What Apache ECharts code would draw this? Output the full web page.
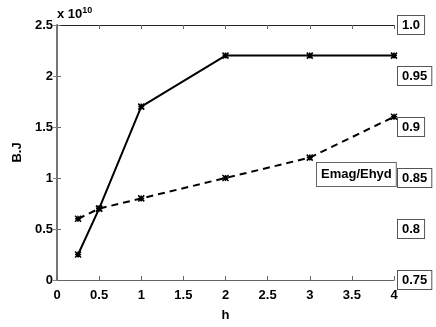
<!DOCTYPE html>
<html>
<head>
<meta charset="utf-8">
<script src="https://cdn.jsdelivr.net/npm/echarts@6/dist/echarts.min.js"></script>
<style>
  html, body { margin: 0; padding: 0; background: #fff; }
  #chart { width: 436px; height: 327px; }
</style>
</head>
<body>
<div id="chart"></div>
<script>
// data
const hValues = [0.25, 0.5, 1, 2, 3, 4]
const bjValues = [0.25, 0.7, 1.7, 2.2, 2.2, 2.2]          // x 10^10
const emagRatio = [0.81, 0.82, 0.83, 0.85, 0.87, 0.91]    // right axis
const xTicks = [0, 0.5, 1, 1.5, 2, 2.5, 3, 3.5, 4]
const leftTicks = [0, 0.5, 1, 1.5, 2, 2.5]
const rightTicks = ['0.75', '0.8', '0.85', '0.9', '0.95', '1.0']

const font = 'Liberation Sans, Arial, sans-serif'
const starPath = 'path://M0,0L10,10M10,0L0,10M5,0L5,10M0,5L10,5'

const chart = echarts.init(document.getElementById('chart'))

const option = {
  animation: false,
  textStyle: { fontFamily: font },
  grid: { left: 57, right: 42, top: 25, bottom: 38 },
  xAxis: [
    {
      type: 'value',
      min: xTicks[0],
      max: xTicks[xTicks.length - 1],
      interval: 0.5,
      name: 'h',
      nameLocation: 'middle',
      nameGap: 29,
      nameTextStyle: { color: '#000', fontWeight: 'bold', fontSize: 13, fontFamily: font },
      axisLine: { lineStyle: { color: '#666', width: 1.2 } },
      axisTick: { inside: true, length: 4, lineStyle: { color: '#666' } },
      axisLabel: { color: '#000', fontWeight: 'bold', fontSize: 13, margin: 9, fontFamily: font },
      splitLine: { show: false }
    },
    {
      type: 'value',
      position: 'top',
      min: xTicks[0],
      max: xTicks[xTicks.length - 1],
      interval: 0.5,
      axisLine: { show: true, lineStyle: { color: '#222', width: 1.2 } },
      axisTick: { show: true, inside: true, length: 4, lineStyle: { color: '#666' } },
      axisLabel: { show: false },
      splitLine: { show: false }
    }
  ],
  yAxis: [
    {
      type: 'value',
      min: leftTicks[0],
      max: leftTicks[leftTicks.length - 1],
      interval: 0.5,
      name: 'B.J',
      nameLocation: 'middle',
      nameRotate: 90,
      nameGap: 33,
      nameTextStyle: { color: '#000', fontWeight: 'bold', fontSize: 13, fontFamily: font },
      axisLine: { show: true, lineStyle: { color: '#000', width: 1.5 } },
      axisTick: { show: true, inside: true, length: 4, lineStyle: { color: '#666' } },
      axisLabel: { color: '#000', fontWeight: 'bold', fontSize: 13, margin: 4, fontFamily: font },
      splitLine: { show: false }
    },
    {
      type: 'value',
      position: 'right',
      min: 0.75,
      max: 1.0,
      interval: 0.05,
      axisLine: { show: true, lineStyle: { color: '#888', width: 1.5 } },
      axisTick: { show: true, inside: true, length: 4, lineStyle: { color: '#888' } },
      axisLabel: {
        color: '#000',
        fontWeight: 'bold',
        fontSize: 13,
        fontFamily: font,
        margin: 4,
        borderColor: '#555',
        borderWidth: 1,
        backgroundColor: '#fff',
        padding: [3, 4, 2, 4],
        formatter: (v) => rightTicks[Math.round((v - 0.75) / 0.05)]
      },
      splitLine: { show: false }
    }
  ],
  graphic: [
    {
      type: 'text',
      left: 57,
      top: 6,
      style: {
        text: 'x 10{sup|10}',
        fill: '#000',
        font: 'bold 13px ' + font,
        rich: {
          sup: { fontSize: 9, fontWeight: 'bold', verticalAlign: 'top', padding: [0, 0, 8, 0], fontFamily: font }
        }
      }
    },
    {
      type: 'text',
      left: 316,
      top: 162,
      z: 100,
      style: {
        text: 'Emag/Ehyd',
        fill: '#000',
        font: 'bold 13px ' + font,
        backgroundColor: '#fff',
        borderColor: '#666',
        borderWidth: 1,
        padding: [5, 4, 5, 4]
      }
    }
  ],
  series: [
    {
      name: 'B.J',
      type: 'line',
      xAxisIndex: 0,
      yAxisIndex: 0,
      data: hValues.map((h, i) => [h, bjValues[i]]),
      lineStyle: { color: '#000', width: 2 },
      symbol: starPath,
      symbolSize: 6,
      itemStyle: { color: '#000', borderColor: '#000', borderWidth: 1.5 }
    },
    {
      name: 'Emag/Ehyd',
      type: 'line',
      xAxisIndex: 0,
      yAxisIndex: 1,
      data: hValues.map((h, i) => [h, emagRatio[i]]),
      lineStyle: { color: '#000', width: 2, type: [7, 5] },
      symbol: starPath,
      symbolSize: 6,
      itemStyle: { color: '#000', borderColor: '#000', borderWidth: 1.5 }
    }
  ]
}

chart.setOption(option)
</script>
</body>
</html>
